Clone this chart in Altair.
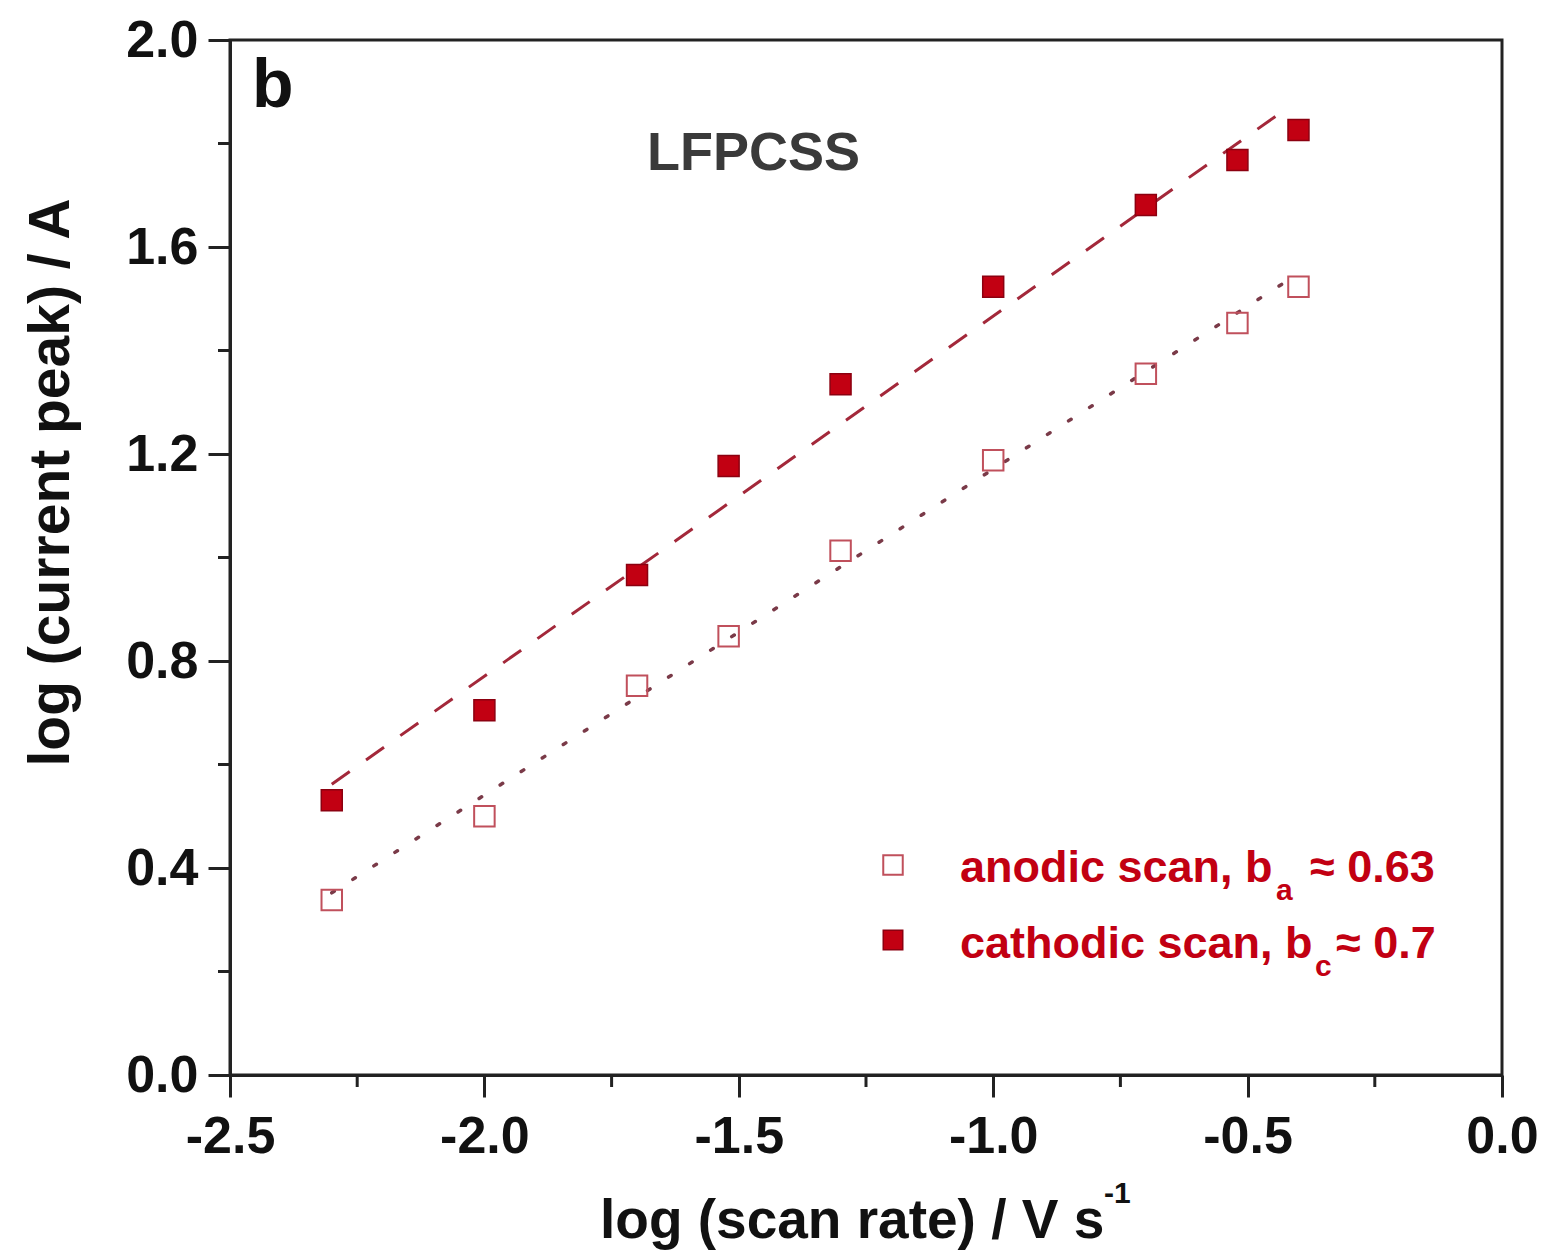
import altair as alt
import pandas as pd

# ---- data ----
log_scan_rate = [-2.30, -2.00, -1.70, -1.52, -1.30, -1.00, -0.70, -0.52, -0.40]
anodic_peak = [0.338, 0.500, 0.752, 0.848, 1.013, 1.188, 1.355, 1.453, 1.523]
cathodic_peak = [0.531, 0.705, 0.966, 1.177, 1.335, 1.523, 1.681, 1.768, 1.826]

fit_x = [-2.30, -0.42]
anodic_fit = [0.352, 1.536]
cathodic_fit = [0.562, 1.870]

x_major = [-2.5, -2.0, -1.5, -1.0, -0.5, 0.0]
x_minor = [-2.25, -1.75, -1.25, -0.75, -0.25]
y_major = [0.0, 0.4, 0.8, 1.2, 1.6, 2.0]
y_minor = [0.2, 0.6, 1.0, 1.4, 1.8]

W, H = 1272, 1035
FONT = "Liberation Sans"
RED = "#c20012"
DARK = "#222222"

pts = pd.DataFrame({"x": log_scan_rate, "an": anodic_peak, "ca": cathodic_peak})
fit = pd.DataFrame({"x": fit_x, "an": anodic_fit, "ca": cathodic_fit})

xs = alt.Scale(domain=[-2.5, 0.0], nice=False, zero=False)
ys = alt.Scale(domain=[0.0, 2.0], nice=False, zero=False)

label_expr = "datum.value < 0 ? '-' + format(-datum.value, '.1f') : format(datum.value, '.1f')"

x_axis = alt.Axis(values=x_major, labelExpr=label_expr, title=None,
                  tickSize=22, labelPadding=14, labelFlush=False)
y_axis = alt.Axis(values=y_major, format=".1f", title="log (current peak) / A",
                  tickSize=22, labelPadding=10, labelFlush=False,
                  titleX=-162, titleY=442, titleBaseline="alphabetic",
                  titleAngle=270, titleFontSize=57)

base = alt.Chart(pts)

cath_line = alt.Chart(fit).mark_line(color="#a3283a", strokeWidth=3, strokeDash=[22, 20]).encode(
    x=alt.X("x:Q", scale=xs, axis=x_axis),
    y=alt.Y("ca:Q", scale=ys, axis=y_axis),
)
an_line = alt.Chart(fit).mark_line(color="#7a3a48", strokeWidth=3.5, strokeDash=[3, 22],
                                   strokeCap="round").encode(
    x=alt.X("x:Q", scale=xs), y=alt.Y("an:Q", scale=ys)
)
an_pts = base.mark_point(shape="square", size=420, filled=False, color="#c0505c",
                         strokeWidth=2, opacity=1).encode(
    x=alt.X("x:Q", scale=xs), y=alt.Y("an:Q", scale=ys)
)
ca_pts = base.mark_point(shape="square", size=440, filled=True, fill=RED,
                         stroke="#8c0010", strokeWidth=1.5, opacity=1).encode(
    x=alt.X("x:Q", scale=xs), y=alt.Y("ca:Q", scale=ys)
)

# minor ticks
xminor = alt.Chart(pd.DataFrame({"x": x_minor})).mark_rule(color=DARK, strokeWidth=3).encode(
    x=alt.X("x:Q", scale=xs), y=alt.value(H), y2=alt.value(H + 12)
)
yminor = alt.Chart(pd.DataFrame({"y": y_minor})).mark_rule(color=DARK, strokeWidth=3).encode(
    y=alt.Y("y:Q", scale=ys), x=alt.value(0), x2=alt.value(-12)
)

def txt(s, x, y, size, color, weight="bold", align="left", baseline="alphabetic"):
    return alt.Chart(pd.DataFrame({"t": [s]})).mark_text(
        font=FONT, fontSize=size, fontWeight=weight, color=color,
        align=align, baseline=baseline
    ).encode(x=alt.value(x), y=alt.value(y), text="t:N")

# x axis title with superscript
xt1 = txt("log (scan rate) / V s", 370, 1198, 55, "#111111")
xt2 = txt("-1", 874, 1163, 30, "#111111")

panel = txt("b", 22, 67, 68, "#111111")
sample = txt("LFPCSS", 417, 130, 54, "#3a3a3a")

# legend
leg_open = alt.Chart(pd.DataFrame({"k": ["a"]})).mark_point(
    shape="square", size=380, filled=False, color="#c0505c", strokeWidth=2, opacity=1
).encode(x=alt.value(663), y=alt.value(825))
leg_fill = alt.Chart(pd.DataFrame({"k": ["c"]})).mark_point(
    shape="square", size=380, filled=True, fill=RED, stroke="#8c0010", strokeWidth=1.5, opacity=1
).encode(x=alt.value(663), y=alt.value(900))

la1 = txt("anodic scan, b", 730, 842, 45, RED)
la2 = txt("a", 1046, 860, 30, RED)
la3 = txt("\u2248 0.63", 1080, 842, 45, RED)
lc1 = txt("cathodic scan, b", 730, 918, 45, RED)
lc2 = txt("c", 1085, 936, 30, RED)
lc3 = txt("\u2248 0.7", 1106, 918, 45, RED)

chart = alt.layer(
    cath_line, an_line, an_pts, ca_pts, xminor, yminor,
    xt1, xt2, panel, sample, leg_open, leg_fill, la1, la2, la3, lc1, lc2, lc3
).properties(
    width=W, height=H,
    autosize=alt.AutoSizeParams(type="none"),
    padding={"left": 222, "top": 32, "right": 36, "bottom": 181},
    background="white",
).configure_view(
    stroke=DARK, strokeWidth=3
).configure_axis(
    labelFont=FONT, labelFontSize=52, labelFontWeight="bold", labelColor="#111111",
    titleFont=FONT, titleFontWeight="bold", titleColor="#111111",
    domainColor=DARK, domainWidth=3, tickColor=DARK, tickWidth=3, grid=False,
)

chart.save("out.html", embed_options={"renderer": "svg", "actions": False})
